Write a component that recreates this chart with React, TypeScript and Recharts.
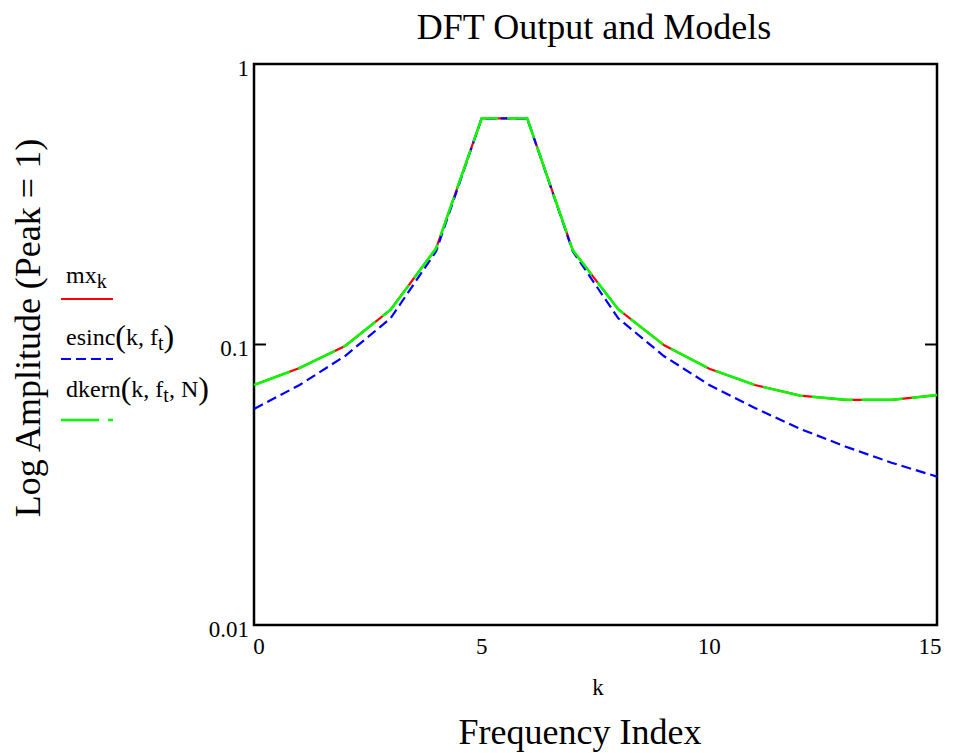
import React from "react";
import { LineChart, Line, XAxis, YAxis, ReferenceArea } from "recharts";

const kValues = [0, 1, 2, 3, 4, 5, 6, 7, 8, 9, 10, 11, 12, 13, 14, 15];
const mxValues = [0.0717, 0.0824, 0.0988, 0.133, 0.2203, 0.64, 0.64, 0.217, 0.1335, 0.0996, 0.082, 0.0717, 0.0657, 0.0635, 0.0635, 0.066];
const esincValues = [0.0589, 0.0717, 0.091, 0.124, 0.215, 0.64, 0.64, 0.215, 0.124, 0.091, 0.0717, 0.0594, 0.05, 0.0432, 0.0379, 0.0338];
const dkernValues = [0.0717, 0.0824, 0.0988, 0.133, 0.2203, 0.64, 0.64, 0.217, 0.1335, 0.0996, 0.082, 0.0717, 0.0657, 0.0635, 0.0635, 0.066];
const xTicks = [0, 5, 10, 15];
const yTicks = [0.01, 0.1, 1];
const yTickLabels = ["0.01", "0.1", "1"];

const data = kValues.map((k, i) => ({ k, mx: mxValues[i], esinc: esincValues[i], dkern: dkernValues[i] }));

const FONT = "'Liberation Serif', 'DejaVu Serif', serif";
const W = 959;
const H = 753;
const PLOT_LEFT = 254;
const PLOT_RIGHT = 937;

const XTick = (props: any) => {
  const { x, y, payload, index } = props;
  let dx = 0;
  if (index === 0) dx = 5;
  if (index === xTicks.length - 1) dx = -7;
  return (
    <text x={x + dx} y={y + 29} textAnchor="middle" fontFamily={FONT} fontSize={23} fill="#000">
      {payload.value}
    </text>
  );
};

const YTick = (props: any) => {
  const { y, payload } = props;
  const idx = yTicks.indexOf(payload.value);
  const label = idx >= 0 ? yTickLabels[idx] : String(payload.value);
  return (
    <g>
      <text x={249} y={y + 11.5} textAnchor="end" fontFamily={FONT} fontSize={23} fill="#000">
        {label}
      </text>
      <line x1={PLOT_LEFT} x2={PLOT_LEFT + 12} y1={y} y2={y} stroke="#000" strokeWidth={2} />
      <line x1={PLOT_RIGHT - 12} x2={PLOT_RIGHT} y1={y} y2={y} stroke="#000" strokeWidth={2} />
    </g>
  );
};

export default function App() {
  return (
    <div style={{ position: "absolute", left: 0, top: 0, width: W, height: H, background: "#fff" }}>
      <LineChart width={W} height={H} data={data} margin={{ top: 64, right: 22, bottom: 98, left: 0 }}>
        <XAxis
          dataKey="k"
          type="number"
          domain={[0, 15]}
          ticks={xTicks}
          axisLine={false}
          tickLine={false}
          tickSize={0}
          tickMargin={0}
          height={30}
          tick={<XTick />}
          interval={0}
        />
        <YAxis
          type="number"
          scale="log"
          domain={[0.01, 1]}
          ticks={yTicks}
          allowDataOverflow
          axisLine={false}
          tickLine={false}
          tickSize={0}
          tickMargin={0}
          width={254}
          tick={<YTick />}
          interval={0}
        />
        <Line type="linear" dataKey="mx" stroke="#ff0000" strokeWidth={2.2} dot={false} isAnimationActive={false} />
        <Line type="linear" dataKey="esinc" stroke="#0000ff" strokeWidth={2.2} strokeDasharray="10 5" dot={false} isAnimationActive={false} />
        <Line type="linear" dataKey="dkern" stroke="#00ff00" strokeWidth={2.5} strokeDasharray="38 9 3 0" dot={false} isAnimationActive={false} />
        <ReferenceArea x1={0} x2={15} y1={0.01} y2={1} fill="none" stroke="#000" strokeWidth={2.5} ifOverflow="visible" />
      </LineChart>
      <svg width={W} height={H} style={{ position: "absolute", left: 0, top: 0, pointerEvents: "none" }}>
        <text x={594} y={39} textAnchor="middle" fontFamily={FONT} fontSize={36} fill="#000">DFT Output and Models</text>
        <text transform="translate(40,328) rotate(-90)" textAnchor="middle" fontFamily={FONT} fontSize={36} fill="#000">Log Amplitude (Peak = 1)</text>
        <text x={598} y={695} textAnchor="middle" fontFamily={FONT} fontSize={23} fill="#000">k</text>
        <text x={580} y={744} textAnchor="middle" fontFamily={FONT} fontSize={36} fill="#000">Frequency Index</text>

        <text x={66} y={283} fontFamily={FONT} fontSize={24} fill="#000">
          mx<tspan fontSize={20} dy={5}>k</tspan>
        </text>
        <line x1={61} x2={113} y1={299} y2={299} stroke="#ff0000" strokeWidth={2.2} />

        <text x={66} y={345} fontFamily={FONT} fontSize={24} fill="#000">
          esinc<tspan fontSize={32} dy={2}>(</tspan><tspan dy={-2}>k, f</tspan><tspan fontSize={20} dy={5}>t</tspan><tspan fontSize={32} dy={-3}>)</tspan>
        </text>
        <line x1={61} x2={113} y1={359} y2={359} stroke="#0000ff" strokeWidth={2.2} strokeDasharray="10 5" />

        <text x={66} y={397} fontFamily={FONT} fontSize={24} fill="#000">
          dkern<tspan fontSize={32} dy={2}>(</tspan><tspan dy={-2}>k, f</tspan><tspan fontSize={20} dy={5}>t</tspan><tspan dy={-5}>, N</tspan><tspan fontSize={32} dy={2}>)</tspan>
        </text>
        <line x1={61} x2={113} y1={420} y2={420} stroke="#00ff00" strokeWidth={2.5} strokeDasharray="38 9 3 0" />
      </svg>
    </div>
  );
}
